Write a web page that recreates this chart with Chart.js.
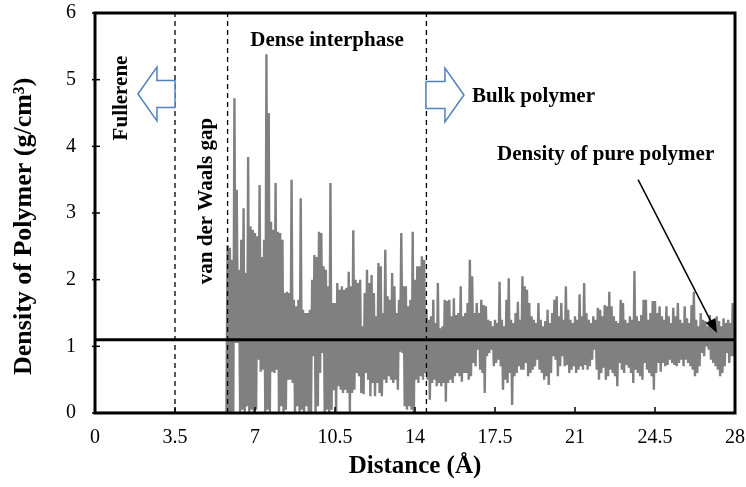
<!DOCTYPE html>
<html><head><meta charset="utf-8">
<script src="https://cdn.jsdelivr.net/npm/chart.js@4.4.0/dist/chart.umd.min.js"></script>
<style>html,body{margin:0;padding:0;background:#fff;overflow:hidden}</style>
</head><body>
<canvas id="c" width="746" height="487"></canvas>
<script>
const xTicks = [0, 3.5, 7, 10.5, 14, 17.5, 21, 24.5, 28];
const yTicks = [0, 1, 2, 3, 4, 5, 6];
const regionBoundaries = [3.5, 5.8, 14.5];
const pureDensity = 1.1;
const emptyRange = [0, 5.75];          // no polymer inside fullerene / gap
const peakStart = 5.8, troughStart = 5.85, sampleStep = 0.1;

// local maxima of the density profile (g/cm3), every 0.1 Å from 5.8 Å
const peakDensity = [
  2.52, 2.48, 2.3, 4.72, 3.35, 2.15, 2.6, 3.07, 2.1, 3.84,
  2.8, 2.75, 2.7, 2.65, 3.42, 2.34, 2.6, 5.38, 4.5, 2.87,
  2.75, 3.45, 2.72, 2.7, 2.6, 1.8, 1.82, 1.8, 3.5, 1.7,
  1.6, 1.7, 3.22, 1.55, 1.5, 1.5, 1.55, 2.0, 2.37, 2.34,
  2.72, 2.7, 2.2, 2.15, 1.9, 3.45, 1.65, 1.65, 1.95, 1.85,
  1.9, 1.85, 1.88, 2.12, 1.9, 2.74, 2.0, 1.95, 2.0, 1.3,
  1.8, 2.15, 1.95, 2.07, 1.8, 1.45, 2.25, 2.2, 1.5, 2.45,
  1.75, 1.7, 2.1, 1.9, 1.5, 1.7, 2.7, 1.9, 1.9, 1.6,
  1.7, 2.72, 2.0, 2.2, 2.2, 2.35, 2.3, 1.55, 1.4, 1.45,
  1.7, 1.35, 1.95, 1.27, 1.3, 1.7, 1.68, 1.7, 1.45, 1.72,
  1.47, 1.5, 1.9, 1.45, 1.5, 1.65, 2.3, 2.05, 1.5, 1.65,
  1.5, 1.7, 1.62, 1.6, 1.4, 1.38, 1.3, 1.4, 1.35, 1.97,
  1.4, 1.3, 1.7, 2.02, 1.4, 1.35, 1.5, 1.67, 1.4, 2.05,
  1.9, 1.85, 1.65, 1.45, 1.4, 1.35, 1.65, 1.4, 1.3, 1.38,
  1.55, 1.35, 1.5, 1.7, 1.75, 1.45, 1.65, 1.4, 1.9, 1.55,
  1.4, 1.35, 1.45, 1.4, 1.78, 1.45, 1.95, 1.5, 1.4, 1.35,
  1.45, 1.4, 1.58, 1.55, 1.45, 1.62, 1.6, 1.82, 1.6, 1.45,
  1.38, 1.35, 1.7, 1.65, 1.4, 1.35, 1.45, 1.4, 2.13, 1.45,
  1.38, 1.47, 1.7, 1.7, 1.4, 1.5, 1.68, 1.68, 1.5, 1.6,
  1.45, 1.4, 1.6, 1.45, 1.35, 1.58, 1.45, 1.65, 1.4, 1.35,
  1.6, 1.42, 1.35, 1.62, 1.82, 1.4, 1.3, 1.5, 1.4, 1.38,
  1.3, 1.47, 1.35, 1.32, 1.45, 1.38, 1.3, 1.42, 1.35, 1.4,
  1.35, 1.65, 1.6
];

// local minima of the density profile (g/cm3), every 0.1 Å from 5.85 Å
const troughDensity = [
  0.0, 0.0, 0.02, 1.05, 1.05, 0.0, 0.05, 0.0, 0.1, 0.0,
  0.05, 0.0, 0.05, 0.8, 0.62, 0.65, 0.0, 0.05, 0.0, 0.62,
  0.6, 0.65, 0.0, 0.1, 0.0, 0.05, 0.5, 0.5, 0.45, 0.0,
  0.1, 0.0, 0.05, 0.0, 0.1, 0.02, 0.0, 0.85, 0.0, 0.1,
  0.6, 0.9, 0.0, 0.05, 0.0, 0.05, 0.34, 0.0, 0.4, 0.35,
  0.3, 0.35, 0.3, 0.0, 0.3, 0.35, 0.6, 0.55, 0.3, 0.28,
  0.6, 0.5, 0.25, 0.45, 0.25, 0.45, 0.3, 0.25, 0.5, 0.45,
  0.55, 0.5, 0.45, 0.5, 0.35, 0.92, 0.9, 0.1, 0.05, 0.1,
  0.05, 0.0, 0.5, 0.45, 0.55, 0.5, 0.6, 0.5, 0.2, 0.45,
  0.5, 0.4, 0.45, 0.4, 0.45, 0.17, 0.45, 0.5, 0.45, 0.55,
  0.6, 0.55, 0.47, 0.6, 0.6, 0.5, 0.55, 0.75, 0.7, 0.95,
  0.65, 0.6, 0.3, 0.85, 0.9, 0.95, 0.7, 0.75, 0.8, 0.7,
  0.35, 0.5, 0.45, 0.6, 0.12, 0.55, 0.6, 0.7, 0.65, 0.65,
  0.75, 0.55, 0.6, 0.65, 0.7, 0.8, 0.65, 0.6, 0.5, 0.55,
  0.42, 0.6, 0.85, 0.8, 0.55, 0.7, 0.85, 0.7, 0.72, 0.6,
  0.65, 0.7, 0.6, 0.65, 0.7, 0.65, 0.72, 0.65, 0.7, 0.8,
  0.95, 0.65, 0.5, 0.6, 0.68, 0.5, 0.55, 0.65, 0.6, 0.55,
  0.4, 0.75, 0.65, 0.6, 0.72, 0.68, 0.6, 0.45, 0.65, 0.6,
  0.55, 0.5, 0.75, 0.65, 0.6, 0.55, 0.35, 0.6, 0.75, 0.62,
  0.75, 0.7, 0.72, 0.8, 0.75, 0.72, 0.7, 0.75, 0.8, 0.7,
  0.8, 0.75, 0.7, 0.65, 0.55, 0.6, 0.7, 0.9, 0.85, 1.0,
  0.95, 0.8, 0.75, 0.7, 0.65, 0.55, 0.6, 0.7, 0.9, 0.75,
  0.85, 0.85
];

const serif = "'Liberation Serif', 'Times New Roman', serif";

const densityPoints = [{x: emptyRange[0], y: 0}, {x: emptyRange[1], y: 0}];
for (let i = 0; i < peakDensity.length; i++) {
  densityPoints.push({x: +(peakStart + i * sampleStep).toFixed(2), y: peakDensity[i]});
  if (i < troughDensity.length) {
    densityPoints.push({x: +(troughStart + i * sampleStep).toFixed(2), y: troughDensity[i]});
  }
}

const overlay = {
  id: 'overlay',
  afterDatasetsDraw(chart) {
    const {ctx, chartArea: a, scales: {x, y}} = chart;
    const X = v => x.getPixelForValue(v), Y = v => y.getPixelForValue(v);
    ctx.save();
    ctx.strokeStyle = '#000';
    ctx.lineWidth = 1.5;
    xTicks.forEach(v => { const p = X(v); ctx.beginPath(); ctx.moveTo(p, a.bottom); ctx.lineTo(p, a.bottom - 6); ctx.stroke(); });
    yTicks.forEach(v => { const p = Y(v); ctx.beginPath(); ctx.moveTo(a.left - 3, p); ctx.lineTo(a.left + 5, p); ctx.stroke(); });
    ctx.lineWidth = 3;
    ctx.strokeRect(a.left, a.top, a.right - a.left, a.bottom - a.top);

    // y axis title
    ctx.fillStyle = '#000';
    ctx.textBaseline = 'middle';
    ctx.textAlign = 'center';
    ctx.font = `bold 26px ${serif}`;
    ctx.save(); ctx.translate(24, Y(2.8)); ctx.rotate(-Math.PI / 2);
    ctx.fillText('Density of Polymer (g/cm³)', 0, 0); ctx.restore();

    // annotations
    ctx.font = `bold 21px ${serif}`;
    const text = (t, xv, yv, align, rot) => {
      ctx.save(); ctx.translate(X(xv), Y(yv)); if (rot) ctx.rotate(-Math.PI / 2);
      ctx.textAlign = align; ctx.fillText(t, 0, 0); ctx.restore();
    };
    text('Dense interphase', 10.15, 5.58, 'center');
    text('Bulk polymer', 16.49, 4.75, 'left');
    text('Density of pure polymer', 17.59, 3.87, 'left');
    text('Fullerene', 1.18, 4.725, 'center', true);
    text('van der Waals gap', 4.9, 3.18, 'center', true);

    // block arrows
    const block = (tip, base, tail, cyv) => {
      const t = X(tip), b = X(base), e = X(tail), cy = Y(cyv);
      const hh = 27, bh = 13.5;
      ctx.beginPath();
      ctx.moveTo(t, cy); ctx.lineTo(b, cy - hh); ctx.lineTo(b, cy - bh); ctx.lineTo(e, cy - bh);
      ctx.lineTo(e, cy + bh); ctx.lineTo(b, cy + bh); ctx.lineTo(b, cy + hh); ctx.closePath();
      ctx.fillStyle = '#fff'; ctx.fill();
      ctx.strokeStyle = '#4f81bd'; ctx.lineWidth = 1.5; ctx.stroke();
    };
    block(1.88, 2.71, 3.5, 4.785);
    block(16.14, 15.31, 14.48, 4.77);

    // pointer arrow
    const x1 = X(23.76), y1 = Y(3.5), x2 = X(27.21), y2 = Y(1.2);
    const ang = Math.atan2(y2 - y1, x2 - x1);
    ctx.strokeStyle = '#000'; ctx.fillStyle = '#000'; ctx.lineWidth = 1.5;
    ctx.beginPath(); ctx.moveTo(x1, y1); ctx.lineTo(x2 - 10 * Math.cos(ang), y2 - 10 * Math.sin(ang)); ctx.stroke();
    ctx.beginPath(); ctx.moveTo(x2, y2);
    ctx.lineTo(x2 - 14 * Math.cos(ang) + 5.5 * Math.sin(ang), y2 - 14 * Math.sin(ang) - 5.5 * Math.cos(ang));
    ctx.lineTo(x2 - 14 * Math.cos(ang) - 5.5 * Math.sin(ang), y2 - 14 * Math.sin(ang) + 5.5 * Math.cos(ang));
    ctx.closePath(); ctx.fill();
    ctx.restore();
  }
};

const noPad = s => { s.paddingTop = 0; s.paddingBottom = 0; s.paddingLeft = 0; s.paddingRight = 0; };

new Chart(document.getElementById('c'), {
  type: 'line',
  data: {
    datasets: [
      {label: 'Density of pure polymer', data: [{x: 0, y: pureDensity}, {x: 28, y: pureDensity}],
       borderColor: '#000', borderWidth: 3, pointRadius: 0},
      ...regionBoundaries.map(b => ({label: 'boundary', data: [{x: b, y: 0}, {x: b, y: 6}],
       borderColor: '#000', borderWidth: 1.3, borderDash: [5, 4], pointRadius: 0})),
      {label: 'Density', data: densityPoints, borderColor: '#808080', borderWidth: 2.4,
       pointRadius: 0, tension: 0}
    ]
  },
  options: {
    responsive: false,
    animation: false,
    layout: {padding: {top: 13, right: 11, left: 0, bottom: 0}},
    plugins: {legend: {display: false}, tooltip: {enabled: false}},
    scales: {
      x: {
        type: 'linear', min: 0, max: 28,
        afterBuildTicks: s => { s.ticks = xTicks.map(v => ({value: v})); },
        afterFit: s => { s.height = 74; noPad(s); },
        ticks: {font: {family: serif, size: 20}, color: '#000', padding: 13, maxRotation: 0, autoSkip: false,
                callback: v => String(v)},
        grid: {display: false, drawTicks: false},
        border: {display: false},
        title: {display: true, text: 'Distance (Å)', color: '#000',
                font: {family: serif, size: 25, weight: 'bold'}, padding: {top: 0, bottom: 5}}
      },
      y: {
        type: 'linear', min: 0, max: 6,
        afterBuildTicks: s => { s.ticks = yTicks.map(v => ({value: v})); },
        afterFit: s => { s.width = 95; noPad(s); },
        ticks: {font: {family: serif, size: 20}, color: '#000', padding: 19, autoSkip: false},
        grid: {display: false, drawTicks: false},
        border: {display: false}
      }
    }
  },
  plugins: [overlay]
});
</script>
</body></html>
